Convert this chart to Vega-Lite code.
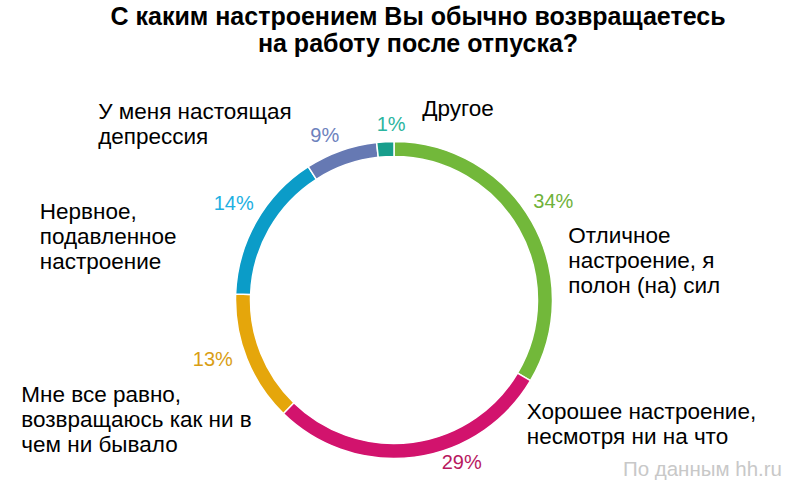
{
  "$schema": "https://vega.github.io/schema/vega-lite/v6.json",
  "width": 788,
  "height": 360,
  "autosize": {"type": "none"},
  "padding": {"top": 120, "left": 0, "right": 9, "bottom": 5},
  "background": "white",
  "config": {"view": {"stroke": null}, "font": "Liberation Sans"},
  "title": {
    "text": ["С каким настроением Вы обычно возвращаетесь", "на работу после отпуска?"],
    "font": "Liberation Sans",
    "fontSize": 25,
    "fontWeight": "bold",
    "color": "#000000",
    "anchor": "middle",
    "dx": 24,
    "lineHeight": 27,
    "offset": 41
  },
  "data": {
    "values": [
      {"cat": "Отличное", "name": "Отличное\nнастроение, я\nполон (на) сил", "share": 33.5, "label": "34%", "order": 0},
      {"cat": "Хорошее", "name": "Хорошее настроение,\nнесмотря ни на что", "share": 28.8, "label": "29%", "order": 1},
      {"cat": "Все равно", "name": "Мне все равно,\nвозвращаюсь как ни в\nчем ни бывало", "share": 13.3, "label": "13%", "order": 2},
      {"cat": "Нервное", "name": "Нервное,\nподавленное\nнастроение", "share": 15.3, "label": "14%", "order": 3},
      {"cat": "Депрессия", "name": "У меня настоящая\nдепрессия", "share": 7.35, "label": "9%", "order": 4},
      {"cat": "Другое", "name": "Другое", "share": 1.75, "label": "1%", "order": 5}
    ]
  },
  "resolve": {"scale": {"color": "independent"}},
  "layer": [
    {
      "mark": {"type": "arc", "innerRadius": 143.5, "outerRadius": 158.5, "stroke": "white", "strokeWidth": 1.5},
      "encoding": {
        "theta": {"field": "share", "type": "quantitative", "stack": true},
        "order": {"field": "order", "type": "quantitative"},
        "color": {
          "field": "cat",
          "type": "nominal",
          "scale": {
            "domain": ["Отличное", "Хорошее", "Все равно", "Нервное", "Депрессия", "Другое"],
            "range": ["#72b83a", "#d2136d", "#e5a60b", "#0b9cc8", "#6679b3", "#189e8c"]
          },
          "legend": null
        }
      }
    },
    {
      "mark": {
        "type": "text",
        "radius": 180,
        "fontSize": 20,
        "font": "Liberation Sans",
        "align": "center",
        "baseline": "middle",
        "dx": {"expr": "[3, 44, -14, -4, -9, 7][datum.order]"},
        "dy": {"expr": "[-9, -15, -7, -7, 6, 5][datum.order]"}
      },
      "encoding": {
        "theta": {"field": "share", "type": "quantitative", "stack": true},
        "order": {"field": "order", "type": "quantitative"},
        "text": {"field": "label"},
        "color": {
          "field": "cat",
          "type": "nominal",
          "scale": {
            "domain": ["Отличное", "Хорошее", "Все равно", "Нервное", "Депрессия", "Другое"],
            "range": ["#6fb23a", "#b8195f", "#d99e14", "#1eb0e2", "#6d82bd", "#2bb5a0"]
          },
          "legend": null
        }
      }
    },
    {
      "mark": {
        "type": "text",
        "radius": 158,
        "fontSize": 22.5,
        "font": "Liberation Sans",
        "color": "#000000",
        "align": "left",
        "baseline": "alphabetic",
        "lineBreak": "\n",
        "lineHeight": 25,
        "dx": {"expr": "[37, 112, -226, -217, -243, 37][datum.order]"},
        "dy": {"expr": "[21, -38, 43, -3, -32, -26][datum.order]"}
      },
      "encoding": {
        "theta": {"field": "share", "type": "quantitative", "stack": true},
        "order": {"field": "order", "type": "quantitative"},
        "text": {"field": "name"}
      }
    },
    {
      "data": {"values": [{"t": "По данным hh.ru"}]},
      "mark": {"type": "text", "align": "right", "baseline": "alphabetic", "fontSize": 20.5, "font": "Liberation Sans", "color": "#c8c8c8", "dx": -6, "dy": -4},
      "encoding": {
        "text": {"field": "t"},
        "x": {"value": "width"},
        "y": {"value": "height"}
      }
    }
  ]
}
